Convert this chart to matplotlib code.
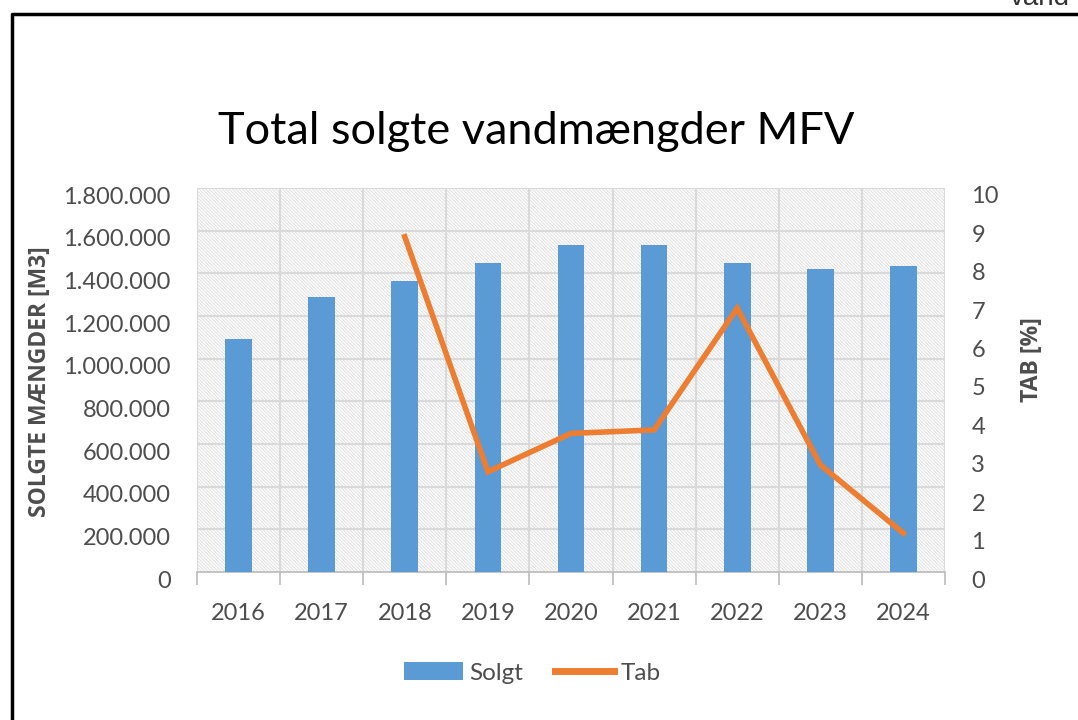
import matplotlib.pyplot as plt
import matplotlib.transforms as mtransforms
from matplotlib.lines import Line2D
from matplotlib.patches import Rectangle, Patch

# data
aar = ['2016', '2017', '2018', '2019', '2020', '2021', '2022', '2023', '2024']
solgt = [1090000, 1288000, 1364000, 1447000, 1533000, 1533000, 1448000, 1420000, 1436000]
tab_aar = ['2018', '2019', '2020', '2021', '2022', '2023', '2024']
tab = [8.73, 2.61, 3.61, 3.70, 6.87, 2.79, 1.01]

blaa = '#5b9bd5'
orange = '#ed7d31'
graa = '#4d4d4d'
gitter = '#d9d9d9'

plt.rcParams['font.family'] = ['Lato', 'DejaVu Sans']
plt.rcParams['hatch.linewidth'] = 0.8

fig = plt.figure(figsize=(10.78, 7.2), dpi=100)
ax = fig.add_axes([197/1078, 1-572/720, (945-197)/1078, (572-188)/720])
ax2 = ax.twinx()

x = list(range(len(aar)))
tx = [aar.index(a) for a in tab_aar]

# skraveret baggrund
ax.add_patch(Rectangle((0, 0), 1, 1, transform=ax.transAxes, facecolor='white',
                       edgecolor='#e2e2e2', linewidth=0, hatch='\\' * 10, zorder=0))

ax.bar(x, solgt, width=0.32, color=blaa, zorder=3)
ax2.plot(tx, tab, color=orange, linewidth=4, solid_joinstyle='miter', zorder=4)

ax.set_xlim(-0.5, len(aar) - 0.5)
ax.set_ylim(0, 1800000)
ax2.set_ylim(0, 10)
ax.set_yticks(range(0, 1800001, 200000))
ax.set_yticklabels(['{:,}'.format(v).replace(',', '.') for v in range(0, 1800001, 200000)])
ax2.set_yticks(range(0, 11))

# gitterlinjer
for v in range(200000, 1800001, 200000):
    ax.axhline(v, color=gitter, linewidth=1.5, zorder=1)
for b in range(len(aar) + 1):
    ax.axvline(b - 0.5, color=gitter, linewidth=1.5, zorder=1)

ax.set_xticks(x)
ax.set_xticklabels(aar)
ax.set_xticks([b - 0.5 for b in range(len(aar) + 1)], minor=True)
ax.tick_params(axis='x', which='major', length=0, pad=22, labelsize=17, labelcolor=graa)
ax.tick_params(axis='x', which='minor', length=9, width=1.3, color='#bfbfbf', direction='out')
ax.tick_params(axis='y', length=0, pad=19, labelsize=17, labelcolor=graa)
ax2.tick_params(axis='y', length=0, pad=19, labelsize=17, labelcolor=graa)

# etiketterne sidder lidt under gitterlinjen
ned = mtransforms.ScaledTranslation(0, -7/100, fig.dpi_scale_trans)
for lab in ax.get_yticklabels() + ax2.get_yticklabels():
    lab.set_transform(lab.get_transform() + ned)

for a in (ax, ax2):
    for s in a.spines.values():
        s.set_visible(False)
ax.spines['bottom'].set_visible(True)
ax.spines['bottom'].set_color('#bfbfbf')
ax.spines['bottom'].set_linewidth(1.3)
ax.set_zorder(ax2.get_zorder() - 1)
ax2.patch.set_visible(False)

ax.set_ylabel('SOLGTE MÆNGDER [M3]', fontsize=16.5, fontweight='bold', color=graa,
              family=['Open Sans', 'DejaVu Sans'])
ax.yaxis.set_label_coords((52-197)/748, (572-382)/384)
ax2.set_ylabel('TAB [%]', fontsize=16.5, fontweight='bold', color=graa,
               family=['Open Sans', 'DejaVu Sans'])
ax2.yaxis.set_label_coords((1020-197)/748, (572-360)/384)

fig.text(536/1078, 1-132/720, 'Total solgte vandmængder MFV', ha='center', va='center',
         fontsize=32.5, color='black')

handles = [Patch(facecolor=blaa, edgecolor='none'), Line2D([], [], color=orange, linewidth=5)]
fig.legend(handles, ['Solgt', 'Tab'], loc='center', bbox_to_anchor=(532/1078, 1-673/720),
           ncol=2, frameon=False, fontsize=17.5, handlelength=2.45, handleheight=0.75,
           columnspacing=1.3, handletextpad=0.25, labelcolor=graa)

# ramme og afskaaret tekst
fig.add_artist(Line2D([12/1078, 12/1078, 1.0], [0.0, 1-14/720, 1-14/720],
                      transform=fig.transFigure, color='black', linewidth=2.5))
fig.text(1010/1078, 1-5/720, 'vand', ha='left', va='baseline', fontsize=20,
         color='#333333', family=['Liberation Sans', 'DejaVu Sans'])

plt.savefig('out.png', dpi=100)
